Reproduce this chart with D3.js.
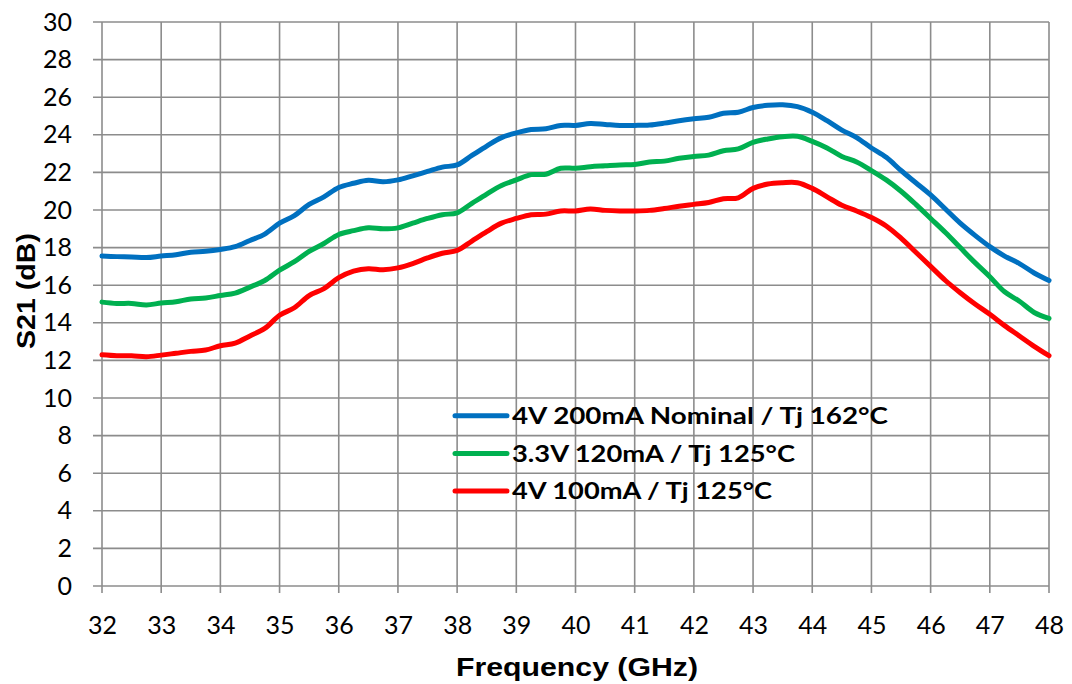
<!DOCTYPE html>
<html><head><meta charset="utf-8">
<script src="https://cdn.jsdelivr.net/npm/d3@7"></script>
<style>body{margin:0;background:#fff;} svg{display:block;}</style>
</head><body>
<svg id="c" width="1072" height="684"></svg>
<script>
const freqs = [32,32.25,32.5,32.75,33,33.25,33.5,33.75,34,34.25,34.5,34.75,35,35.25,35.5,35.75,36,36.25,36.5,36.75,37,37.25,37.5,37.75,38,38.25,38.5,38.75,39,39.25,39.5,39.75,40,40.25,40.5,40.75,41,41.25,41.5,41.75,42,42.25,42.5,42.75,43,43.25,43.5,43.75,44,44.25,44.5,44.75,45,45.25,45.5,45.75,46,46.25,46.5,46.75,47,47.25,47.5,47.75,48];
const s21_4V200 = [17.55,17.52,17.50,17.47,17.55,17.62,17.75,17.80,17.90,18.05,18.38,18.72,19.30,19.70,20.30,20.70,21.20,21.42,21.58,21.50,21.60,21.82,22.05,22.28,22.40,22.90,23.40,23.85,24.10,24.28,24.32,24.50,24.50,24.60,24.55,24.50,24.50,24.52,24.62,24.75,24.85,24.93,25.15,25.20,25.45,25.57,25.60,25.50,25.20,24.75,24.25,23.85,23.30,22.80,22.10,21.45,20.80,20.05,19.30,18.65,18.05,17.55,17.15,16.65,16.25];
const s21_33V120 = [15.10,15.03,15.03,14.95,15.05,15.12,15.27,15.32,15.45,15.58,15.90,16.25,16.80,17.25,17.80,18.22,18.70,18.90,19.05,19.00,19.05,19.30,19.55,19.75,19.85,20.35,20.85,21.30,21.60,21.88,21.90,22.22,22.22,22.30,22.35,22.40,22.42,22.55,22.60,22.75,22.85,22.92,23.15,23.25,23.60,23.78,23.90,23.92,23.65,23.30,22.85,22.55,22.10,21.60,21.00,20.30,19.55,18.80,18.00,17.20,16.45,15.65,15.15,14.55,14.23];
const s21_4V100 = [12.30,12.25,12.25,12.20,12.28,12.38,12.48,12.55,12.78,12.92,13.30,13.70,14.40,14.80,15.45,15.82,16.40,16.75,16.88,16.82,16.92,17.15,17.45,17.70,17.85,18.35,18.85,19.30,19.55,19.75,19.78,19.95,19.95,20.05,19.98,19.95,19.95,19.98,20.08,20.20,20.30,20.40,20.60,20.65,21.15,21.38,21.45,21.45,21.15,20.70,20.25,19.95,19.60,19.15,18.50,17.75,17.00,16.25,15.60,15.00,14.45,13.85,13.30,12.75,12.25];
const seriesNames = ["4V 200mA Nominal / Tj 162°C","3.3V 120mA / Tj 125°C","4V 100mA / Tj 125°C"];
const seriesColors = ["#0070C0","#00B050","#FF0000"];
const xTicks = [32,33,34,35,36,37,38,39,40,41,42,43,44,45,46,47,48];
const yTicks = [0,2,4,6,8,10,12,14,16,18,20,22,24,26,28,30];

const series = [s21_4V200, s21_33V120, s21_4V100];
const svg = d3.select("#c");
const L = 102, R = 1049, T = 22, B = 586;
const x = d3.scaleLinear().domain([32,48]).range([L,R]);
const y = d3.scaleLinear().domain([0,30]).range([B,T]);
const grid = "#8c8c8c";
const font = "Lato, 'Liberation Sans', sans-serif";
const boldFont = "'Liberation Sans', Arial, sans-serif";

// gridlines
svg.append("g").selectAll("line").data(xTicks).join("line")
  .attr("x1",d=>x(d)).attr("x2",d=>x(d)).attr("y1",T).attr("y2",B+7)
  .attr("stroke",grid).attr("stroke-width",1.6);
svg.append("g").selectAll("line").data(yTicks).join("line")
  .attr("x1",L-9).attr("x2",R).attr("y1",d=>y(d)).attr("y2",d=>y(d))
  .attr("stroke",grid).attr("stroke-width",1.6);

// axes with labels
const xAxis = d3.axisBottom(x).tickValues(xTicks).tickSize(0).tickPadding(30).tickFormat(d3.format("d"));
const gx = svg.append("g").attr("transform",`translate(0,${B})`).call(xAxis);
gx.select(".domain").remove();
gx.selectAll("text").attr("font-family",font).attr("font-size",25).attr("fill","#000");
const yAxis = d3.axisLeft(y).tickValues(yTicks).tickSize(0).tickPadding(30).tickFormat(d3.format("d"));
const gy = svg.append("g").attr("transform",`translate(${L},0)`).call(yAxis);
gy.select(".domain").remove();
gy.selectAll("text").attr("font-family",font).attr("font-size",25).attr("fill","#000");

// lines
const line = d3.line().x((d,i)=>x(freqs[i])).y(d=>y(d)).curve(d3.curveCatmullRom.alpha(0.5));
series.forEach((s,k)=>{
  svg.append("path").attr("d",line(s)).attr("fill","none")
    .attr("stroke",seriesColors[k]).attr("stroke-width",5).attr("stroke-linejoin","round").attr("stroke-linecap","round");
});

// legend
const legY = [y(9.05), y(7.05), y(5.05)];
const legW = [376, 283, 260];
seriesNames.forEach((n,k)=>{
  svg.append("line").attr("x1",455).attr("x2",507).attr("y1",legY[k]).attr("y2",legY[k])
    .attr("stroke",seriesColors[k]).attr("stroke-width",5).attr("stroke-linecap","round");
  svg.append("text").attr("x",512).attr("y",legY[k]).attr("dy","0.36em")
    .attr("textLength",legW[k]).attr("lengthAdjust","spacingAndGlyphs")
    .attr("font-family",font).attr("font-weight","bold").attr("font-size",23).attr("fill","#000").text(n);
});

// axis titles
svg.append("text").attr("x",577).attr("y",676).attr("text-anchor","middle")
  .attr("textLength",242).attr("lengthAdjust","spacingAndGlyphs")
  .attr("font-family",boldFont).attr("font-weight","bold").attr("font-size",26).text("Frequency (GHz)");
svg.append("text").attr("transform",`translate(35,291) rotate(-90)`).attr("text-anchor","middle")
  .attr("textLength",116).attr("lengthAdjust","spacingAndGlyphs")
  .attr("font-family",boldFont).attr("font-weight","bold").attr("font-size",26).text("S21 (dB)");
</script>
</body></html>
